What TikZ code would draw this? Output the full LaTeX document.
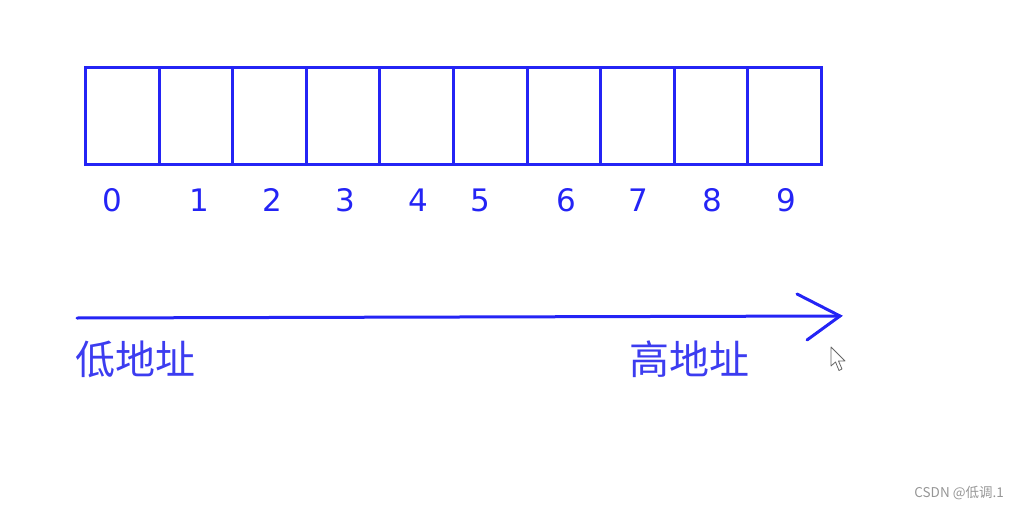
\documentclass[tikz,border=0pt]{standalone}
\usepackage{fontspec}
\setmainfont{DejaVu Sans}
\newfontfamily\cjk{Noto Sans CJK SC}
\definecolor{memblue}{RGB}{36,36,245}
\definecolor{lblblue}{RGB}{60,60,240}
\definecolor{wmgray}{RGB}{150,150,150}
\begin{document}
\begin{tikzpicture}[x=1pt,y=-1pt,
  cell/.style={draw=memblue,line width=3pt,minimum width=73.6pt,minimum height=97pt,inner sep=0pt,anchor=north west},
  digit/.style={text=memblue,font=\fontsize{31}{31}\selectfont,inner sep=0pt},
  addr/.style={text=lblblue,font=\cjk\fontsize{40}{40}\selectfont,inner sep=0pt,anchor=west},
  axis/.style={draw=memblue,line width=3pt,line cap=round}]
\useasboundingbox (0,0) rectangle (1019,508);
% memory cells
\foreach \i in {0,...,9} {
  \node[cell] (c\i) at ({84+73.6*\i},66) {};
}
% index digits
\foreach \i/\x in {0/112,1/199,2/272,3/345,4/418,5/480,6/566,7/638,8/712,9/786} {
  \node[digit] (d\i) at (\x,200) {\i};
}
% address axis
\coordinate (a0) at (77,318);
\coordinate (a1) at (840,316);
\coordinate (h1) at (797,294);
\coordinate (h2) at (807,340);
\draw[axis] (a0) -- (a1);
\draw[axis] (h1) -- (a1) -- (h2);
\node[addr] (low) at (75,359) {低地址};
\node[addr] (high) at (629,359) {高地址};
% mouse cursor
\draw[draw=black!60,fill=white,line width=0.8pt,line join=round]
  (831,347) -- (831,366) -- (835.5,362) -- (839,370.5) -- (842,369) -- (838.5,361) -- (845,361) -- cycle;
% watermark
\node[text=wmgray,font=\cjk\fontsize{13.5}{13.5}\selectfont,inner sep=0pt,anchor=east] (wm) at (1004,493) {CSDN @低调.1};
\end{tikzpicture}
\end{document}
